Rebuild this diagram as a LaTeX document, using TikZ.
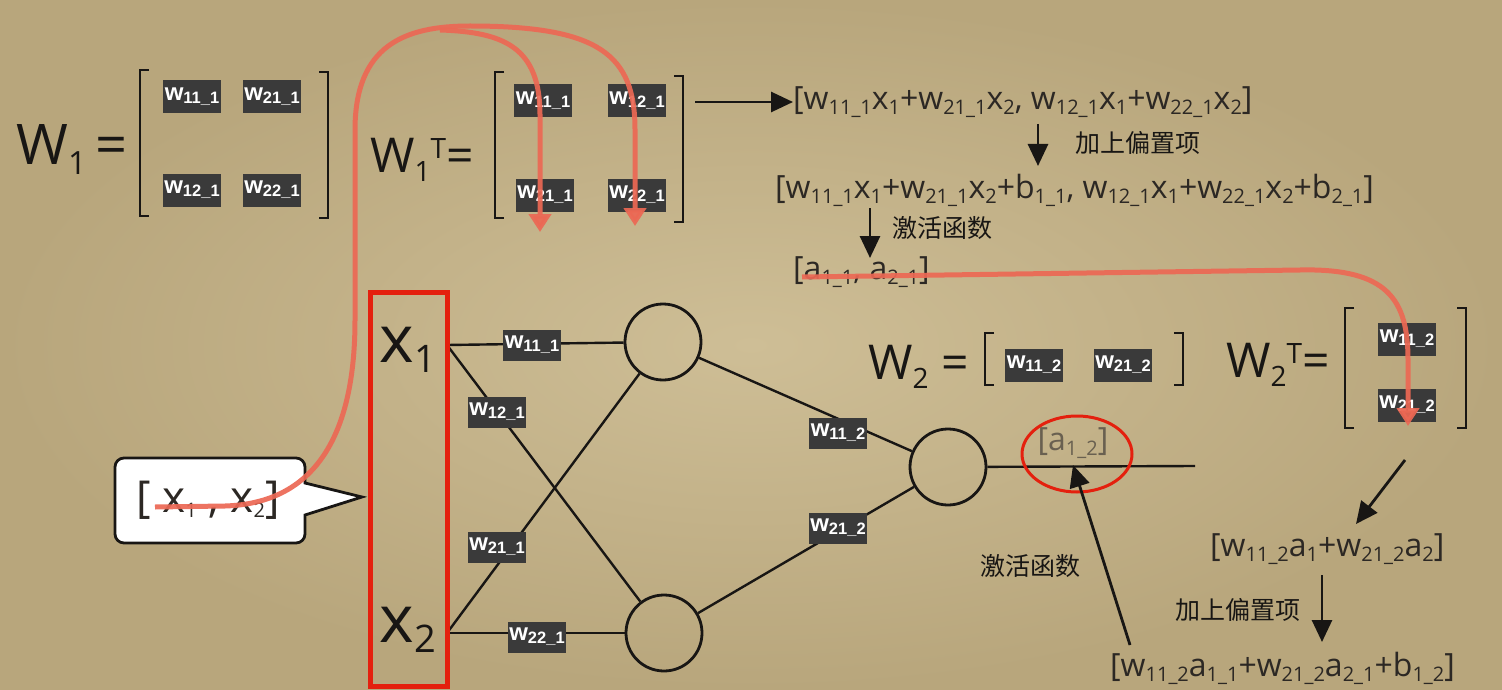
\documentclass[tikz,border=0pt]{standalone}
\usepackage{fontspec}
\setmainfont{Open Sans}
\newfontfamily\boxfont{Liberation Sans}
\newfontfamily\cjk{Noto Sans CJK SC}
\usetikzlibrary{arrows.meta,calc}
\definecolor{bgin}{RGB}{206,190,150}
\definecolor{bgout}{RGB}{184,166,124}
\definecolor{boxcol}{RGB}{58,58,58}
\definecolor{inkcol}{RGB}{24,22,20}
\definecolor{softink}{RGB}{44,40,36}
\definecolor{greyink}{RGB}{105,96,80}
\definecolor{redarrowcol}{RGB}{236,104,84}
\definecolor{redboxcol}{RGB}{228,32,14}
\newcommand\wlab[1]{{\boxfont\bfseries\fontsize{24}{24}\selectfont w\raisebox{-3pt}{\fontsize{16.5}{16.5}\selectfont #1}}}
\newcommand\hsub[1]{\raisebox{-5pt}{\fontsize{20}{20}\selectfont #1}}
\newcommand\hwf{\fontsize{32}{32}\selectfont}
\newcommand\cjkf{\cjk\fontsize{25}{25}\selectfont}
\newcommand\lbrk[3]{\draw[brk] (#1,#2) ++(9,0) -- ++(-9,0) -- ++(0,#3) -- ++(9,0);}
\newcommand\rbrk[3]{\draw[brk] (#1,#2) ++(-9,0) -- ++(9,0) -- ++(0,#3) -- ++(-9,0);}
\tikzset{
  wbox/.style={fill=boxcol, text=white, inner sep=0pt, minimum width=58pt, minimum height=33pt},
  ink/.style={text=inkcol, inner sep=0pt},
  neuron/.style={circle, draw=inkcol, line width=2.8pt, minimum size=76pt, inner sep=0pt},
  edge/.style={draw=inkcol, line width=2.4pt},
  brk/.style={draw=inkcol, line width=2.8pt},
  blackarrow/.style={draw=inkcol, line width=2.8pt, -{Triangle[length=22pt,width=20pt]}},
  redarrow/.style={draw=redarrowcol, line width=5pt, -{Triangle[length=18pt,width=22pt]}, opacity=0.92},
}
\begin{document}
\begin{tikzpicture}[x=1pt,y=-1pt]
\useasboundingbox (0,0) rectangle (1502,690);
\shade[inner color=bgin, outer color=bgout] (0,0) rectangle (1502,690);

% ---------- W1 ----------
\node[ink, anchor=west, font=\fontsize{56}{56}\selectfont] (W1) at (16,150) {W\raisebox{-10pt}{\fontsize{32}{32}\selectfont 1}\,=};
\lbrk{140}{70}{146}
\rbrk{328}{72}{146}
\node[wbox] (a11) at (192,97) {\wlab{11\_1}};
\node[wbox] (a21) at (272,97) {\wlab{21\_1}};
\node[wbox] (a12) at (192,190) {\wlab{12\_1}};
\node[wbox] (a22) at (272,190) {\wlab{22\_1}};

% ---------- W1^T ----------
\node[ink, anchor=west, font=\fontsize{48}{48}\selectfont] (W1T) at (370,160) {W\raisebox{-9pt}{\fontsize{28}{28}\selectfont 1}\raisebox{14pt}{\fontsize{28}{28}\selectfont T}=};
\lbrk{495}{72}{146}
\rbrk{683}{76}{146}
\node[wbox] (t11) at (543,101) {\wlab{11\_1}};
\node[wbox] (t12) at (637,101) {\wlab{12\_1}};
\node[wbox] (t21) at (545,195) {\wlab{21\_1}};
\node[wbox] (t22) at (637,195) {\wlab{22\_1}};

% ---------- formulas top right ----------
\node[ink, anchor=west, font=\hwf, text=softink] (f1) at (793,102)
 {[w\hsub{11\_1}x\hsub{1}+w\hsub{21\_1}x\hsub{2}, w\hsub{12\_1}x\hsub{1}+w\hsub{22\_1}x\hsub{2}]};
\coordinate (arrS) at (695,102);
\draw[blackarrow] (arrS) -- (f1.west);
\node[ink, anchor=west, font=\cjkf] (c1) at (1075,143) {加上偏置项};
\node[ink, anchor=west, font=\hwf, text=softink] (f2) at (775,190)
 {[w\hsub{11\_1}x\hsub{1}+w\hsub{21\_1}x\hsub{2}+b\hsub{1\_1}, w\hsub{12\_1}x\hsub{1}+w\hsub{22\_1}x\hsub{2}+b\hsub{2\_1}]};
\coordinate (d1a) at (1038,124);
\coordinate (d1b) at (1038,166);
\draw[blackarrow] (d1a) -- (d1b);
\node[ink, anchor=west, font=\cjkf] (c2) at (892,228) {激活函数};
\node[ink, anchor=west, font=\hwf, text=softink] (f3) at (793,272) {[a\hsub{1\_1}, a\hsub{2\_1}]};
\coordinate (d2a) at (870,208);
\coordinate (d2b) at (870,258);
\draw[blackarrow] (d2a) -- (d2b);

% ---------- network ----------
\node[neuron] (h1) at (663,342) {};
\node[neuron] (h2) at (664,633) {};
\node[neuron] (o) at (948,467) {};
\coordinate (x1r) at (447,345);
\coordinate (x2r) at (447,633);
\draw[edge] (x1r) -- (h1);
\draw[edge] (x1r) -- (h2);
\draw[edge] (x2r) -- (h1);
\draw[edge] (x2r) -- (h2);
\draw[edge] (h1) -- (o);
\draw[edge] (h2) -- (o);
\coordinate (oend) at (1195,466);
\draw[edge] (o) -- (oend);
\node[wbox, minimum height=31pt] (n11) at (532,345) {\wlab{11\_1}};
\node[wbox, minimum height=31pt] (n12) at (497,412) {\wlab{12\_1}};
\node[wbox, minimum height=31pt] (n21) at (497,547) {\wlab{21\_1}};
\node[wbox, minimum height=31pt] (n22) at (537,637) {\wlab{22\_1}};
\node[wbox, minimum height=31pt] (m11) at (838,433) {\wlab{11\_2}};
\node[wbox, minimum height=31pt] (m21) at (838,528) {\wlab{21\_2}};

% inputs
\draw[draw=redboxcol, line width=5pt] (370,292) rectangle (447,686);
\node[ink, font=\fontsize{66}{66}\selectfont] (x1) at (408,350) {x\raisebox{-10pt}{\fontsize{38}{38}\selectfont 1}};
\node[ink, font=\fontsize{66}{66}\selectfont] (x2) at (408,630) {x\raisebox{-10pt}{\fontsize{38}{38}\selectfont 2}};

% bubble
\draw[draw=inkcol, fill=white, line width=2.8pt] (115,458) [rounded corners=9pt] -- (305,458) [sharp corners] -- (305,483) -- (362,497) -- (305,515) [rounded corners=9pt] -- (305,543) -- (115,543) -- cycle;
\node[ink, font=\fontsize{44}{44}\selectfont, text=softink] (bub) at (208,500) {[ x\hsub{1} , x\hsub{2}]};

% ---------- W2 ----------
\node[ink, anchor=west, font=\fontsize{48}{48}\selectfont] (W2) at (868,367) {W\raisebox{-9pt}{\fontsize{28}{28}\selectfont 2} =};
\lbrk{985}{333}{52}
\rbrk{1183}{333}{52}
\node[wbox] (b11) at (1034,365) {\wlab{11\_2}};
\node[wbox] (b21) at (1123,365) {\wlab{21\_2}};
\node[ink, anchor=west, font=\fontsize{48}{48}\selectfont] (W2T) at (1226,365) {W\raisebox{-9pt}{\fontsize{28}{28}\selectfont 2}\raisebox{14pt}{\fontsize{28}{28}\selectfont T}=};
\lbrk{1345}{308}{120}
\rbrk{1466}{308}{120}
\node[wbox] (u11) at (1407,339) {\wlab{11\_2}};
\node[wbox] (u21) at (1407,405) {\wlab{21\_2}};

% output a
\node[ink, font=\hwf, text=greyink] (a12o) at (1073,443) {[a\hsub{1\_2}]};
\draw[draw=redboxcol, line width=3pt] (1077,454) ellipse [x radius=55, y radius=38];
\node[ink, font=\cjkf] (c3) at (1030,566) {激活函数};
\node[ink, anchor=west, font=\hwf, text=softink] (g3) at (1110,668)
 {[w\hsub{11\_2}a\hsub{1\_1}+w\hsub{21\_2}a\hsub{2\_1}+b\hsub{1\_2}]};
\coordinate (upA) at (1130,645);
\coordinate (upB) at (1073,465);
\draw[blackarrow] (upA) -- (upB);
\node[ink, anchor=west, font=\hwf, text=softink] (g1) at (1210,549) {[w\hsub{11\_2}a\hsub{1}+w\hsub{21\_2}a\hsub{2}]};
\coordinate (sA) at (1405,460);
\coordinate (sB) at (1356,524);
\draw[blackarrow] (sA) -- (sB);
\coordinate (tA) at (1322,575);
\coordinate (tB) at (1322,642);
\draw[blackarrow] (tA) -- (tB);
\node[ink, anchor=west, font=\cjkf] (c4) at (1175,610) {加上偏置项};

% ---------- red arrows ----------
\coordinate (rs) at (155,507);
\coordinate (rt1) at (540,232);
\coordinate (rt2) at (635,226);
\draw[redarrow] (rs) -- (225,506) .. controls (325,503) and (355,420) .. (355,320) -- (355,130) .. controls (355,45) and (405,26) .. (470,26) .. controls (600,26) and (635,55) .. (635,130) -- (rt2);
\draw[redarrow] (440,30) .. controls (505,32) and (540,48) .. (540,115) -- (rt1);
\coordinate (rs2) at (802,277);
\coordinate (rt3) at (1408,426);
\draw[redarrow] (rs2) -- (1300,270) .. controls (1388,268) and (1408,300) .. (1408,360) -- (rt3);
\end{tikzpicture}
\end{document}
